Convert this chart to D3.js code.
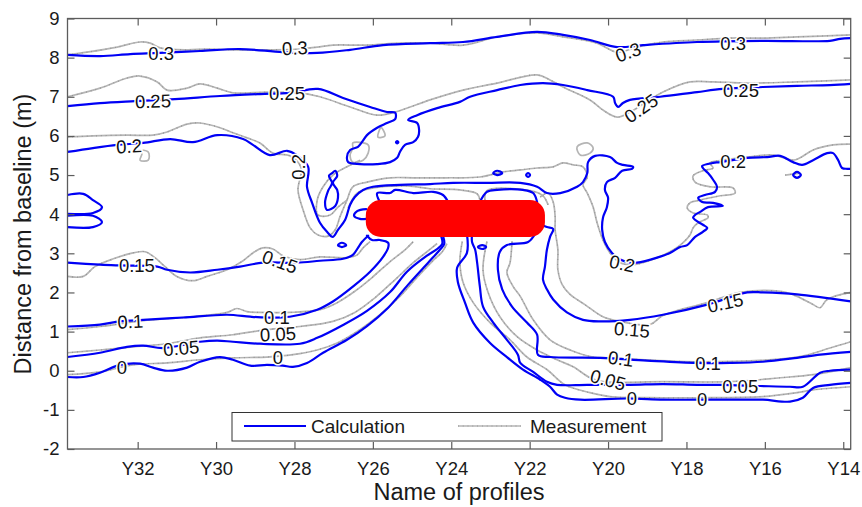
<!DOCTYPE html>
<html><head><meta charset="utf-8">
<script src="https://cdn.jsdelivr.net/npm/d3@7"></script>
<style>
html,body{margin:0;padding:0;background:#fff;}
svg{display:block;font-family:"Liberation Sans",Arial,Helvetica,sans-serif;}
</style></head><body>
<svg id="chart" width="862" height="507"></svg>
<script>
// ---------- axes ----------
const profileTicks = [32,30,28,26,24,22,20,18,16,14];
const distanceTicks = [-2,-1,0,1,2,3,4,5,6,7,8,9];
const profileDomain = [33.79, 13.81];
const distanceDomain = [-2, 9];

// ---------- structure (breakwater) ----------
const structureX = [26.18, 21.61];
const structureY = [3.42, 4.36];

// ---------- Calculation contours [profile, distance] ----------
const calc030 = [[33.79,8.07],[32.96,8.04],[32.19,8.09],[31.43,8.12],[30.41,8.17],[29.39,8.22],[28.30,8.14],[27.42,8.12],[26.58,8.20],[25.74,8.32],[24.54,8.37],[23.70,8.40],[22.83,8.53],[21.81,8.66],[21.15,8.58],[20.46,8.45],[19.77,8.27],[19.11,8.32],[17.73,8.40],[16.05,8.43],[14.34,8.43],[14.08,8.48],[13.81,8.50]];
const calc025 = [[33.79,6.76],[32.96,6.84],[32.07,6.89],[31.05,6.94],[29.90,7.02],[28.88,7.07],[28.12,7.10],[27.40,7.20],[26.76,6.97],[26.07,6.74],[25.64,6.61],[25.43,6.59],[25.43,6.43],[25.64,6.33],[25.89,6.21],[26.15,6.02],[26.28,5.84],[26.38,5.72],[26.58,5.64],[26.66,5.46],[26.63,5.33],[26.33,5.28],[25.89,5.28],[25.56,5.33],[25.38,5.44],[25.31,5.59],[25.18,5.77],[24.97,5.84],[24.85,5.97],[24.82,6.15],[24.87,6.33],[25.10,6.41],[24.87,6.53],[24.36,6.71],[23.78,6.87],[23.52,7.00],[22.83,7.17],[22.24,7.30],[21.66,7.35],[21.15,7.30],[20.53,7.17],[19.87,7.00],[19.82,6.84],[19.74,6.74],[19.62,6.84],[19.44,6.92],[18.67,7.00],[17.73,7.12],[17.07,7.20],[16.05,7.25],[15.18,7.28],[14.34,7.30],[13.81,7.33]];
const calc020 = [[33.79,5.59],[33.14,5.69],[32.52,5.77],[31.86,5.82],[31.17,5.92],[30.59,5.84],[29.97,6.02],[29.31,5.92],[29.06,5.77],[28.63,5.51],[28.19,5.62],[27.94,5.51],[27.65,5.21],[27.68,4.70],[27.55,4.29],[27.35,3.78],[27.17,3.55],[27.02,3.42],[26.89,3.60],[26.71,3.85],[26.58,4.24],[26.46,4.44],[26.25,4.62],[26.00,4.70],[25.31,4.75],[24.54,4.77],[23.95,4.80],[23.09,4.80],[22.24,4.80],[21.81,4.70],[21.56,4.54],[21.22,4.54],[20.79,4.70],[20.64,4.82],[20.53,5.05],[20.51,5.33],[20.33,5.49],[19.95,5.46],[19.77,5.31],[19.62,5.26],[19.36,5.21],[19.39,5.16],[19.64,5.11],[19.82,4.93],[20.03,4.82],[20.08,4.62],[20.00,4.42],[20.03,4.18],[20.13,3.91],[20.15,3.60],[20.08,3.29],[19.90,3.01],[19.69,2.84],[19.44,2.76],[19.26,2.76],[18.75,2.89],[18.42,3.01],[18.16,3.16],[17.98,3.21],[17.78,3.42],[17.58,3.55],[17.47,3.65],[17.58,3.73],[17.70,3.80],[17.83,3.91],[17.78,3.98],[17.65,4.06],[17.45,4.18],[17.07,4.21],[17.32,4.29],[17.60,4.31],[17.70,4.42],[17.53,4.49],[17.27,4.57],[17.22,4.70],[17.32,4.88],[17.45,5.05],[17.58,5.18],[17.60,5.23],[17.32,5.31],[17.14,5.33],[16.45,5.44],[15.94,5.46],[15.61,5.49],[15.28,5.33],[15.05,5.26],[14.77,5.38],[14.41,5.56],[14.26,5.56],[14.13,5.38],[14.03,5.18],[13.90,5.16],[13.81,5.16]];
const calcEdgeUpper = [[33.79,4.49],[33.39,4.52],[33.14,4.36],[32.91,4.18],[33.14,4.03],[33.79,4.01]];
const calcEdgeLower = [[33.79,3.96],[33.14,3.96],[32.91,3.80],[33.14,3.67],[33.79,3.67]];
const calcInnerA = [[25.82,4.31],[25.89,4.54],[25.56,4.54],[25.43,4.62],[24.97,4.54],[24.46,4.57],[24.21,4.49],[24.08,4.31]];
const calcInnerB = [[23.27,4.31],[23.09,4.57],[22.83,4.62],[22.17,4.62],[21.91,4.54],[21.81,4.31]];
const calcInnerC = [[26.17,4.13],[26.40,4.08],[26.48,3.96],[26.33,3.88],[26.17,3.88]];
const calc015L = [[33.79,2.76],[32.96,2.71],[32.45,2.69],[31.50,2.66],[31.25,2.58],[30.66,2.51],[29.97,2.58],[29.39,2.66],[28.81,2.76],[27.94,2.76],[27.35,2.81],[26.76,2.86],[26.51,2.96],[26.38,3.14],[26.28,3.29],[26.12,3.45]];
const calc010L = [[33.79,1.13],[32.96,1.18],[32.45,1.26],[31.86,1.30],[30.84,1.36],[29.72,1.43],[29.13,1.38],[28.70,1.36],[28.12,1.38],[27.42,1.56],[27.02,1.77],[26.51,2.15],[26.07,2.53],[25.74,2.91],[25.61,3.14],[25.61,3.27],[25.82,3.34],[26.02,3.34],[26.15,3.45]];
const calc005L = [[33.79,0.35],[32.96,0.46],[32.27,0.61],[31.86,0.64],[31.35,0.58],[30.41,0.74],[29.97,0.77],[29.57,0.74],[28.88,0.69],[27.86,0.69],[27.42,0.84],[26.76,1.17],[26.15,1.53],[25.56,2.01],[25.13,2.53],[24.62,2.94],[24.36,3.11],[24.23,3.24],[24.26,3.45]];
const calc000L = [[33.79,-0.16],[33.39,-0.16],[32.96,-0.05],[32.45,0.15],[31.94,0.18],[31.61,0.08],[31.25,0.00],[30.74,0.08],[30.41,0.23],[29.90,0.35],[29.57,0.28],[29.13,0.13],[28.70,0.15],[28.30,0.13],[28.04,0.10],[27.68,0.20],[27.27,0.46],[26.66,0.79],[26.15,1.14],[25.61,1.61],[25.10,2.20],[24.59,2.76],[24.29,3.09],[24.18,3.24],[24.21,3.45]];
const calc000R = [[23.60,3.50],[23.60,3.01],[23.85,2.63],[23.83,2.26],[23.65,1.74],[23.44,1.23],[23.01,0.71],[22.58,0.35],[22.17,0.03],[21.73,-0.23],[21.48,-0.41],[21.30,-0.61],[21.10,-0.69],[20.71,-0.74],[19.52,-0.71],[18.60,-0.74],[17.73,-0.74],[16.89,-0.74],[16.05,-0.74],[15.36,-0.79],[15.03,-0.69],[14.77,-0.44],[14.34,-0.36],[13.81,-0.31]];
const calc005R = [[23.47,3.50],[23.47,3.29],[23.39,3.09],[23.34,2.76],[23.27,2.15],[23.19,1.64],[22.93,1.23],[22.58,0.79],[22.30,0.41],[22.24,0.20],[21.91,-0.03],[21.56,-0.28],[21.30,-0.36],[20.53,-0.36],[19.44,-0.36],[18.60,-0.34],[17.73,-0.36],[17.14,-0.36],[16.12,-0.39],[15.36,-0.41],[15.03,-0.41],[14.59,-0.05],[14.34,0.00],[13.81,0.03]];
const calc010R = [[21.86,3.50],[22.04,3.29],[22.58,3.21],[22.76,3.04],[22.81,2.58],[22.70,2.08],[22.45,1.64],[22.07,1.23],[21.81,0.92],[21.79,0.41],[21.48,0.35],[20.20,0.33],[19.01,0.26],[17.73,0.20],[16.89,0.20],[16.05,0.23],[15.18,0.33],[14.59,0.41],[13.81,0.48]];
const calc015R = [[21.73,3.75],[21.56,3.67],[21.40,3.62],[21.48,3.42],[21.56,3.09],[21.61,2.66],[21.66,2.33],[21.56,2.08],[21.40,1.82],[21.05,1.49],[20.64,1.30],[20.20,1.26],[19.44,1.30],[18.60,1.43],[17.47,1.69],[16.45,2.00],[16.05,2.00],[15.18,1.95],[13.81,1.77]];
// closed calculation loops
const calcFigure8 = [[27.04,5.05],[26.96,5.11],[26.91,4.98],[27.02,4.80],[26.91,4.62],[26.89,4.42],[26.96,4.21],[27.17,4.11],[27.22,4.29],[27.14,4.60],[27.04,4.80],[27.12,4.98]];
const calcLoopA = [[26.89,3.21],[26.79,3.27],[26.68,3.21],[26.79,3.16]];
const calcLoopB = [[22.93,5.05],[22.83,5.11],[22.70,5.05],[22.83,5.00]];
const calcLoopC = [[22.09,5.00],[22.04,5.05],[21.99,5.00],[22.04,4.95]];
const calcLoopD = [[15.28,5.00],[15.18,5.08],[15.08,5.00],[15.18,4.93]];
const calcLoopE = [[25.41,5.84],[25.38,5.87],[25.35,5.84],[25.38,5.81]];
const calcLoopF = [[23.32,3.16],[23.21,3.21],[23.11,3.16],[23.21,3.11]];

// ---------- Measurement contours ----------
const meas030 = [[33.79,8.07],[33.29,8.14],[32.52,8.27],[31.94,8.40],[31.68,8.37],[31.43,8.25],[30.74,8.20],[30.23,8.22],[29.57,8.20],[28.70,8.20],[27.86,8.22],[27.42,8.27],[27.02,8.32],[26.15,8.32],[25.31,8.37],[24.54,8.37],[23.70,8.32],[22.83,8.53],[21.81,8.63],[21.15,8.53],[20.28,8.37],[19.77,8.14],[19.26,8.27],[18.60,8.40],[17.73,8.45],[16.89,8.50],[16.05,8.50],[15.18,8.53],[13.81,8.58]];
const meas025 = [[33.79,7.00],[32.96,7.22],[32.27,7.48],[31.94,7.53],[31.50,7.38],[31.25,7.17],[30.74,7.22],[30.41,7.33],[29.97,7.22],[29.57,7.10],[28.70,7.12],[27.86,7.10],[27.35,7.00],[26.58,6.74],[25.89,6.53],[25.43,6.61],[25.05,6.74],[24.54,6.92],[23.70,7.17],[22.83,7.35],[21.81,7.56],[21.48,7.43],[21.15,7.25],[20.46,6.92],[20.13,6.66],[19.77,6.48],[19.44,6.61],[18.60,7.12],[17.91,7.38],[17.32,7.38],[16.45,7.35],[15.18,7.38],[13.81,7.43]];
const meas020 = [[33.79,5.97],[33.14,6.00],[32.27,6.02],[31.61,6.02],[31.25,6.10],[30.74,6.30],[30.41,6.33],[29.90,6.21],[29.57,6.08],[29.21,5.95],[28.88,5.82],[28.55,5.56],[28.12,5.49],[27.83,5.18],[27.91,4.62],[27.78,4.11],[27.60,3.65],[27.40,3.47],[27.14,3.44],[26.96,3.60],[26.84,3.93],[26.66,4.36],[26.51,4.70],[26.15,4.82],[25.56,4.93],[24.97,4.93],[24.11,4.93],[23.27,4.95],[22.68,5.08],[22.24,5.13],[21.81,5.18],[21.40,5.21],[21.15,5.31],[20.89,5.26],[20.64,5.21],[20.53,4.95],[20.64,4.75],[20.53,4.54],[20.38,4.18],[20.28,3.78],[20.13,3.34],[19.95,3.01],[19.69,2.76],[19.36,2.71],[19.01,2.79],[18.42,3.04],[18.16,3.21],[17.91,3.47],[17.83,3.65],[17.70,3.78],[17.45,3.91],[17.47,3.98],[17.83,4.03],[17.98,4.16],[17.91,4.29],[17.65,4.36],[17.14,4.47],[16.76,4.54],[16.81,4.67],[17.40,4.70],[17.78,4.82],[17.83,4.98],[17.58,5.11],[17.32,5.18],[17.40,5.31],[17.07,5.38],[16.45,5.46],[15.79,5.51],[15.28,5.38],[15.10,5.44],[14.77,5.64],[14.26,5.77],[13.81,5.79]];
const meas020b = [[26.33,5.38],[26.66,5.21],[27.02,5.00],[27.27,4.70],[27.42,4.36],[27.40,3.98],[27.09,3.98],[26.89,4.18],[26.66,4.36]];
const measInnerA = [[26.63,4.16],[26.40,4.54],[26.00,4.67],[25.13,4.72],[24.54,4.65],[23.78,4.62],[23.34,4.52],[23.27,4.36]];
const measInnerB = [[23.14,4.36],[23.09,4.60],[21.99,4.60],[21.66,4.47],[21.53,4.24]];
const measTail = [[15.48,5.00],[15.10,5.05]];
const meas015L = [[33.79,2.41],[33.39,2.41],[33.09,2.66],[32.62,2.86],[32.12,3.01],[31.81,3.04],[31.56,2.89],[31.30,2.66],[31.00,2.41],[30.59,2.30],[30.23,2.41],[29.72,2.58],[29.31,2.81],[29.06,3.01],[28.81,3.14],[28.55,3.11],[28.30,2.94],[27.86,2.84],[27.35,2.91],[26.66,2.89],[26.40,2.96],[26.25,3.14],[26.07,3.30]];
const meas010L = [[33.79,1.05],[32.96,1.13],[31.86,1.28],[30.84,1.36],[29.72,1.49],[29.47,1.59],[29.21,1.51],[28.88,1.49],[28.12,1.49],[27.35,1.56],[26.91,1.74],[26.46,2.03],[26.02,2.38],[25.56,2.79],[25.18,3.09],[24.97,3.30]];
const meas005L = [[33.79,0.46],[32.96,0.53],[32.12,0.61],[31.25,0.69],[30.41,0.84],[29.57,0.92],[28.70,1.05],[27.86,1.13],[27.02,1.26],[26.46,1.49],[25.94,1.87],[25.43,2.33],[24.97,2.76],[24.62,3.04],[24.36,3.25]];
const meas000L = [[33.79,-0.10],[32.96,-0.03],[32.12,0.15],[31.25,0.20],[30.41,0.28],[29.57,0.33],[28.70,0.35],[28.04,0.41],[27.42,0.53],[26.91,0.71],[26.33,1.05],[25.82,1.43],[25.31,1.90],[24.85,2.41],[24.49,2.79],[24.23,3.04],[24.11,3.25]];
const meas000R = [[23.72,3.30],[23.78,2.79],[23.70,2.26],[23.44,1.74],[23.01,1.23],[22.50,0.79],[22.07,0.35],[21.56,0.03],[21.10,-0.36],[20.46,-0.56],[19.95,-0.66],[18.60,-0.69],[17.73,-0.69],[16.05,-0.66],[15.18,-0.56],[14.77,-0.49],[13.81,-0.41]];
const meas005R = [[23.09,3.30],[23.19,2.58],[23.06,2.00],[22.76,1.38],[22.32,0.87],[21.81,0.53],[21.30,0.28],[20.89,0.10],[20.46,-0.18],[20.13,-0.28],[18.60,-0.28],[16.89,-0.28],[15.61,-0.18],[14.77,-0.10],[13.81,0.08]];
const meas010R = [[22.45,3.30],[22.50,2.76],[22.58,2.51],[22.42,2.15],[22.24,1.90],[21.91,1.30],[21.48,0.79],[20.97,0.53],[20.38,0.35],[19.95,0.33],[17.73,0.23],[15.18,0.35],[14.34,0.58],[13.81,0.74]];
const meas015R = [[21.73,4.44],[21.53,4.54],[21.40,4.31],[21.35,3.93],[21.35,3.60],[21.28,3.09],[21.28,2.58],[21.17,2.20],[20.97,1.95],[20.59,1.69],[20.13,1.38],[19.69,1.26],[18.93,1.18],[18.60,1.41],[17.47,1.74],[16.63,2.00],[15.61,2.03],[15.18,1.90],[14.77,1.69],[14.59,1.61],[14.41,1.82],[13.81,2.00]];
// closed measurement loops
const measSquare = [[31.99,5.64],[31.73,5.59],[31.73,5.38],[31.94,5.38],[31.89,5.56]];
const measTriangle = [[25.87,5.97],[25.79,6.21],[25.69,6.00]];
const measLobe = [[26.51,5.82],[26.12,5.77],[26.12,5.56],[26.25,5.38],[26.51,5.33],[26.58,5.51],[26.51,5.69]];
const measOval = [[20.79,5.72],[20.53,5.82],[20.38,5.69],[20.46,5.56],[20.71,5.51]];

// ---------- contour labels ----------
const contourLabels = [
 {t:"0.3", x:31.40, y:8.12, a:0},
 {t:"0.3", x:27.99, y:8.25, a:-3},
 {t:"0.3", x:19.49, y:8.14, a:-20},
 {t:"0.3", x:16.81, y:8.37, a:0},
 {t:"0.25", x:31.61, y:6.89, a:-2},
 {t:"0.25", x:28.19, y:7.10, a:0},
 {t:"0.25", x:19.16, y:6.71, a:-35},
 {t:"0.25", x:16.61, y:7.17, a:0},
 {t:"0.2", x:32.22, y:5.74, a:-3},
 {t:"0.2", x:27.91, y:5.21, a:-90},
 {t:"0.2", x:16.81, y:5.36, a:0},
 {t:"0.2", x:19.64, y:2.74, a:12},
 {t:"0.15", x:32.02, y:2.69, a:0},
 {t:"0.15", x:28.37, y:2.79, a:20},
 {t:"0.15", x:19.39, y:1.05, a:5},
 {t:"0.15", x:17.01, y:1.74, a:-12},
 {t:"0.1", x:32.19, y:1.26, a:-3},
 {t:"0.1", x:28.45, y:1.36, a:0},
 {t:"0.1", x:19.67, y:0.31, a:8},
 {t:"0.1", x:17.45, y:0.20, a:0},
 {t:"0.05", x:30.89, y:0.58, a:-5},
 {t:"0.05", x:28.42, y:0.94, a:-3},
 {t:"0.05", x:20.00, y:-0.23, a:15},
 {t:"0.05", x:16.63, y:-0.39, a:0},
 {t:"0", x:32.40, y:0.08, a:0},
 {t:"0", x:28.42, y:0.35, a:0},
 {t:"0", x:19.39, y:-0.71, a:0},
 {t:"0", x:17.60, y:-0.74, a:0}
];
const legendNames = ["Calculation","Measurement"];

// ---------- drawing ----------
const svg = d3.select("#chart");
const L = 67.5, R = 850.7, T = 18.5, B = 449;
const x = d3.scaleLinear().domain(profileDomain).range([L, R]);
const y = d3.scaleLinear().domain(distanceDomain).range([B, T]);
const BLUE = "#0000f5", GREY = "#b5b5b5", AX = "#5c5c5c";

svg.append("defs").append("clipPath").attr("id","clip")
  .append("rect").attr("x",L).attr("y",T).attr("width",R-L).attr("height",B-T);

const lineGen = d3.line().x(d=>x(d[0])).y(d=>y(d[1])).curve(d3.curveCatmullRom.alpha(0.5));
const loopGen = d3.line().x(d=>x(d[0])).y(d=>y(d[1])).curve(d3.curveCatmullRomClosed.alpha(0.5));

const plot = svg.append("g").attr("clip-path","url(#clip)");

const measLines = [meas030, meas025, meas020, meas020b, measInnerA, measInnerB, measTail, meas015L, meas010L, meas005L, meas000L, meas000R, meas005R, meas010R, meas015R];
const measLoops = [measSquare, measTriangle, measLobe, measOval];
const calcLines = [calc030, calc025, calc020, calcEdgeUpper, calcEdgeLower, calcInnerA, calcInnerB, calcInnerC, calc015L, calc010L, calc005L, calc000L, calc000R, calc005R, calc010R, calc015R];
const calcLoops = [calcFigure8, calcLoopA, calcLoopB, calcLoopC, calcLoopD, calcLoopE, calcLoopF];

function drawMeas(sel){
  sel.attr("fill","none").attr("stroke",GREY).attr("stroke-width",1.7).attr("stroke-linejoin","round");
}
const gm = plot.append("g");
gm.selectAll("path.ml").data(measLines).join("path").attr("class","ml").attr("d",lineGen).call(drawMeas);
gm.selectAll("path.mp").data(measLoops).join("path").attr("class","mp").attr("d",loopGen).call(drawMeas);
gm.selectAll("path.md").data(measLines).join("path").attr("class","md").attr("d",lineGen)
  .attr("fill","none").attr("stroke","#8f8f8f").attr("stroke-width",1.2).attr("stroke-dasharray","0.8 4");

const gc = plot.append("g");
gc.selectAll("path.cl").data(calcLines).join("path").attr("class","cl").attr("d",lineGen)
  .attr("fill","none").attr("stroke",BLUE).attr("stroke-width",2.2).attr("stroke-linejoin","round").attr("stroke-linecap","round");
gc.selectAll("path.cp").data(calcLoops).join("path").attr("class","cp").attr("d",loopGen)
  .attr("fill","none").attr("stroke",BLUE).attr("stroke-width",2.2);

// breakwater structure
plot.append("rect")
  .attr("x", x(structureX[0])).attr("y", y(structureY[1]))
  .attr("width", x(structureX[1]) - x(structureX[0]))
  .attr("height", y(structureY[0]) - y(structureY[1]))
  .attr("rx", 15).attr("ry", 15).attr("fill", "#ff0000");

// contour labels
svg.append("g").selectAll("text").data(contourLabels).join("text")
  .attr("transform", d=>`translate(${x(d.x)},${y(d.y)}) rotate(${d.a})`)
  .attr("text-anchor","middle").attr("dy","0.36em")
  .attr("font-size",18.5).attr("fill","#111")
  .attr("stroke","#fff").attr("stroke-width",3).attr("paint-order","stroke")
  .text(d=>d.t);

// axes
function styleAxis(g){
  g.select(".domain").remove();
  g.attr("font-family",null).attr("font-size",null);
  g.selectAll(".tick line").attr("stroke",AX).attr("stroke-width",1.2);
  g.selectAll(".tick text").attr("fill","#1a1a1a").attr("font-size",18.5);
}
svg.append("g").attr("transform",`translate(0,${B})`)
  .call(d3.axisBottom(x).tickValues(profileTicks).tickFormat(d=>"Y"+d).tickSizeInner(-7).tickSizeOuter(0).tickPadding(13))
  .call(styleAxis);
svg.append("g").attr("transform",`translate(0,${T})`)
  .call(d3.axisTop(x).tickValues(profileTicks).tickFormat("").tickSizeInner(-7).tickSizeOuter(0))
  .call(styleAxis);
svg.append("g").attr("transform",`translate(${L},0)`)
  .call(d3.axisLeft(y).tickValues(distanceTicks).tickFormat(d=>String(d)).tickSizeInner(-7).tickSizeOuter(0).tickPadding(8))
  .call(styleAxis);
svg.append("g").attr("transform",`translate(${R},0)`)
  .call(d3.axisRight(y).tickValues(distanceTicks).tickFormat("").tickSizeInner(-7).tickSizeOuter(0))
  .call(styleAxis);
svg.append("rect").attr("x",L).attr("y",T).attr("width",R-L).attr("height",B-T)
  .attr("fill","none").attr("stroke",AX).attr("stroke-width",1.3);

// axis titles
svg.append("text").attr("x",459).attr("y",500).attr("text-anchor","middle")
  .attr("font-size",23.5).attr("fill","#1a1a1a").text("Name of profiles");
svg.append("text").attr("transform","translate(31,234) rotate(-90)").attr("text-anchor","middle")
  .attr("font-size",23.5).attr("fill","#1a1a1a").text("Distance from baseline (m)");

// legend
const lg = svg.append("g");
lg.append("rect").attr("x",232).attr("y",412.5).attr("width",430).attr("height",28.5)
  .attr("fill","#fff").attr("stroke","#333").attr("stroke-width",1);
lg.append("line").attr("x1",244).attr("x2",306).attr("y1",426).attr("y2",426)
  .attr("stroke",BLUE).attr("stroke-width",2.2);
lg.append("text").attr("x",311).attr("y",433).attr("font-size",19).attr("fill","#1a1a1a").text(legendNames[0]);
lg.append("line").attr("x1",458).attr("x2",521).attr("y1",426).attr("y2",426)
  .attr("stroke",GREY).attr("stroke-width",1.7);
lg.append("line").attr("x1",458).attr("x2",521).attr("y1",426).attr("y2",426)
  .attr("stroke","#8f8f8f").attr("stroke-width",1.2).attr("stroke-dasharray","0.8 4");
lg.append("text").attr("x",530).attr("y",433).attr("font-size",19).attr("fill","#1a1a1a").text(legendNames[1]);
</script>
</body></html>
